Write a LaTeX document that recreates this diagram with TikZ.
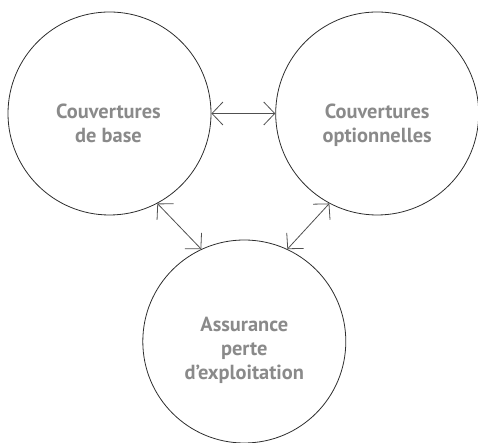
\documentclass[tikz,border=0pt]{standalone}
\usepackage{fontspec}
\setmainfont{PT Sans}
\usetikzlibrary{arrows.meta}
\definecolor{txtgray}{RGB}{138,138,138}
\definecolor{ringcol}{RGB}{45,45,45}
\definecolor{arrcol}{RGB}{80,80,80}
\tikzset{
  ring/.style={circle, draw=ringcol, line width=0.8pt, minimum size=203pt, inner sep=0pt},
  lbl/.style={text=txtgray, align=center, anchor=base, inner sep=0pt,
    font=\bfseries\fontsize{20.4}{24}\selectfont},
  link/.style={draw=arrcol, line width=0.8pt,
    {Straight Barb[length=11pt,width=23pt]}-{Straight Barb[length=11pt,width=23pt]}}
}
\begin{document}
\begin{tikzpicture}[x=1pt,y=1pt]
\useasboundingbox (0,0) rectangle (478,443);
\node[ring] (L) at (109.5,329.5) {};
\node[ring] (R) at (377.2,329.5) {};
\node[ring] (B) at (244.3,101.5) {};
\node[lbl] (tL) at (108.5,300.3) {Couvertures\\de base};
\node[lbl] (tR) at (377.2,300.3) {Couvertures\\optionnelles};
\node[lbl] (tB) at (244.3,63) {Assurance\\perte\\d’exploitation};
\draw[link] (L.east) -- (R.west);
\draw[link] (L.-62) -- (B.115);
\draw[link] (R.-118) -- (B.65);
\end{tikzpicture}
\end{document}
